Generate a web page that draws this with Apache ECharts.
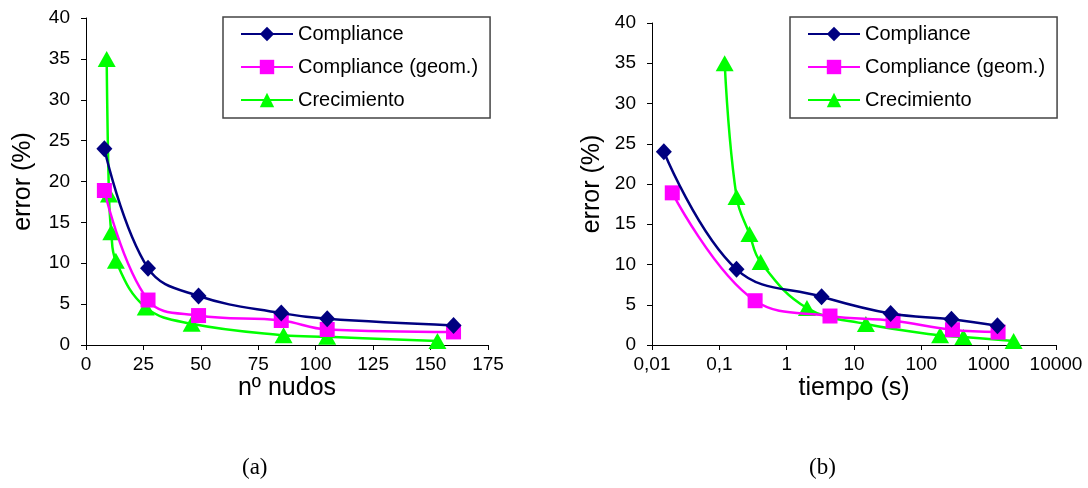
<!DOCTYPE html>
<html lang="es">
<head>
<meta charset="UTF-8">
<title>error vs nudos / tiempo</title>
<script src="https://cdn.jsdelivr.net/npm/echarts@6/dist/echarts.min.js"></script>
<style>
  html, body { margin: 0; padding: 0; background: #fff; }
  .box { position: relative; width: 1088px; height: 488px; }
  #chart, #overlay { position: absolute; left: 0; top: 0; width: 1088px; height: 488px; }
  #overlay { pointer-events: none; }
</style>
</head>
<body>
<div class="box">
  <div id="chart"></div>
  <div id="overlay"></div>
</div>
<script>
// datos
var seriesNames = ['Compliance', 'Compliance (geom.)', 'Crecimiento'];

// (a) error frente a numero de nudos
var nudosCompliance = [8, 27, 49, 85, 105, 160];
var errCompliance = [24, 9.4, 6.0, 3.9, 3.2, 2.4];
var nudosGeom = [8, 27, 49, 85, 105, 160];
var errGeom = [18.9, 5.5, 3.6, 3.0, 1.9, 1.6];
var nudosCrec = [9, 10, 11, 13, 26, 46, 86, 105, 153];
var errCrec = [35, 18.4, 13.8, 10.3, 4.6, 2.6, 1.2, 1.0, 0.5];

// (b) error frente a tiempo (s)
var tiempoCompliance = [0.015, 0.18, 3.3, 35, 280, 1350];
var tiempoGeom = [0.02, 0.34, 4.4, 38, 290, 1380];
var tiempoCrec = [0.12, 0.18, 0.28, 0.41, 2.0, 15, 190, 420, 2350];

var colors = ['#000080', '#ff00ff', '#00ff00'];
var symbols = ['diamond', 'rect', 'triangle'];
var symbolSizes = [[16, 17], 15, [18, 16]];
var FONT = '"Liberation Sans", Arial, sans-serif';

function pairs(xs, ys) {
  return xs.map(function (x, i) { return [x, ys[i]]; });
}

function makeSeries(idx, gridIdx, data) {
  return {
    name: seriesNames[idx],
    type: 'line',
    xAxisIndex: gridIdx,
    yAxisIndex: gridIdx,
    data: data,
    smooth: 0.4,
    symbol: symbols[idx],
    symbolSize: symbolSizes[idx],
    showAllSymbol: true,
    color: colors[idx],
    lineStyle: { width: 2.5, color: colors[idx] },
    itemStyle: { color: colors[idx] },
    animation: false,
    z: 10 - idx
  };
}

function yAxisCfg(gridIdx, gap) {
  return {
    type: 'value', gridIndex: gridIdx,
    min: 0, max: 40, interval: 5,
    name: 'error (%)', nameLocation: 'middle', nameGap: gap,
    nameTextStyle: { fontFamily: FONT, fontSize: 25, color: '#000' },
    axisLine: { show: true, lineStyle: { color: '#000', width: 1 } },
    axisTick: { show: true, length: 5, lineStyle: { color: '#000' } },
    axisLabel: { margin: 16, fontFamily: FONT, fontSize: 19, color: '#000' },
    splitLine: { show: false }
  };
}

function xAxisCfg(gridIdx, extra) {
  var ax = {
    gridIndex: gridIdx,
    nameLocation: 'middle', nameGap: 31, nameMoveOverlap: false,
    nameTextStyle: { fontFamily: FONT, fontSize: 25, color: '#000' },
    axisLine: { show: true, onZero: false, lineStyle: { color: '#000', width: 1 } },
    axisTick: { show: true, length: 5, lineStyle: { color: '#000' } },
    axisLabel: { margin: 10, fontFamily: FONT, fontSize: 19, color: '#000' },
    splitLine: { show: false }
  };
  for (var k in extra) { ax[k] = extra[k]; }
  return ax;
}

var grids = [
  { left: 86, top: 18, width: 402, height: 327, containLabel: false, outerBoundsMode: 'none' },
  { left: 652, top: 23, width: 404, height: 322, containLabel: false, outerBoundsMode: 'none' }
];

var myChart = echarts.init(document.getElementById('chart'), null, { renderer: 'canvas' });

option = {
  backgroundColor: '#fff',
  animation: false,
  grid: grids,
  xAxis: [
    xAxisCfg(0, { type: 'value', min: 0, max: 175, interval: 25, name: 'nº nudos' }),
    xAxisCfg(1, { type: 'log', logBase: 10, min: 0.01, max: 10000, name: 'tiempo (s)' })
  ],
  yAxis: [yAxisCfg(0, 50), yAxisCfg(1, 47)],
  series: [
    makeSeries(0, 0, pairs(nudosCompliance, errCompliance)),
    makeSeries(1, 0, pairs(nudosGeom, errGeom)),
    makeSeries(2, 0, pairs(nudosCrec, errCrec)),
    makeSeries(0, 1, pairs(tiempoCompliance, errCompliance)),
    makeSeries(1, 1, pairs(tiempoGeom, errGeom)),
    makeSeries(2, 1, pairs(tiempoCrec, errCrec))
  ]
};
// etiquetas del eje log con coma decimal
option.xAxis[1].axisLabel.formatter = function (v) {
  return String(+(+v).toPrecision(6)).replace('.', ',');
};
myChart.setOption(option);

// leyendas y rotulos (a)/(b) en una capa aparte: en v6 la leyenda
// hacia desaparecer la etiqueta "25" del eje x
function legendCfg(left, top) {
  return {
    orient: 'vertical', left: left, top: top,
    data: seriesNames.map(function (n) { return { name: n }; }),
    itemWidth: 52, itemHeight: 18, itemGap: 13,
    padding: [7, 12, 8, 17],
    borderColor: '#444', borderWidth: 1.5,
    backgroundColor: '#fff',
    textStyle: { fontFamily: FONT, fontSize: 20, color: '#000', lineHeight: 20 },
    selectedMode: false
  };
}

var overlay = echarts.init(document.getElementById('overlay'), null, { renderer: 'canvas' });
overlay.setOption({
  backgroundColor: 'transparent',
  animation: false,
  grid: { left: 0, top: 0, width: 10, height: 10 },
  xAxis: { type: 'value', show: false },
  yAxis: { type: 'value', show: false },
  legend: [legendCfg(223, 17), legendCfg(790, 17)],
  graphic: [
    { type: 'text', left: 242, top: 456, style: { text: '(a)', font: '23px "Liberation Serif", "Times New Roman", serif', fill: '#000' } },
    { type: 'text', left: 809, top: 456, style: { text: '(b)', font: '23px "Liberation Serif", "Times New Roman", serif', fill: '#000' } }
  ],
  series: [0, 1, 2].map(function (i) {
    return {
      name: seriesNames[i], type: 'line', data: [],
      symbol: symbols[i], symbolSize: symbolSizes[i],
      color: colors[i],
      lineStyle: { width: 2.5, color: colors[i] },
      itemStyle: { color: colors[i] }
    };
  })
});
</script>
</body>
</html>
